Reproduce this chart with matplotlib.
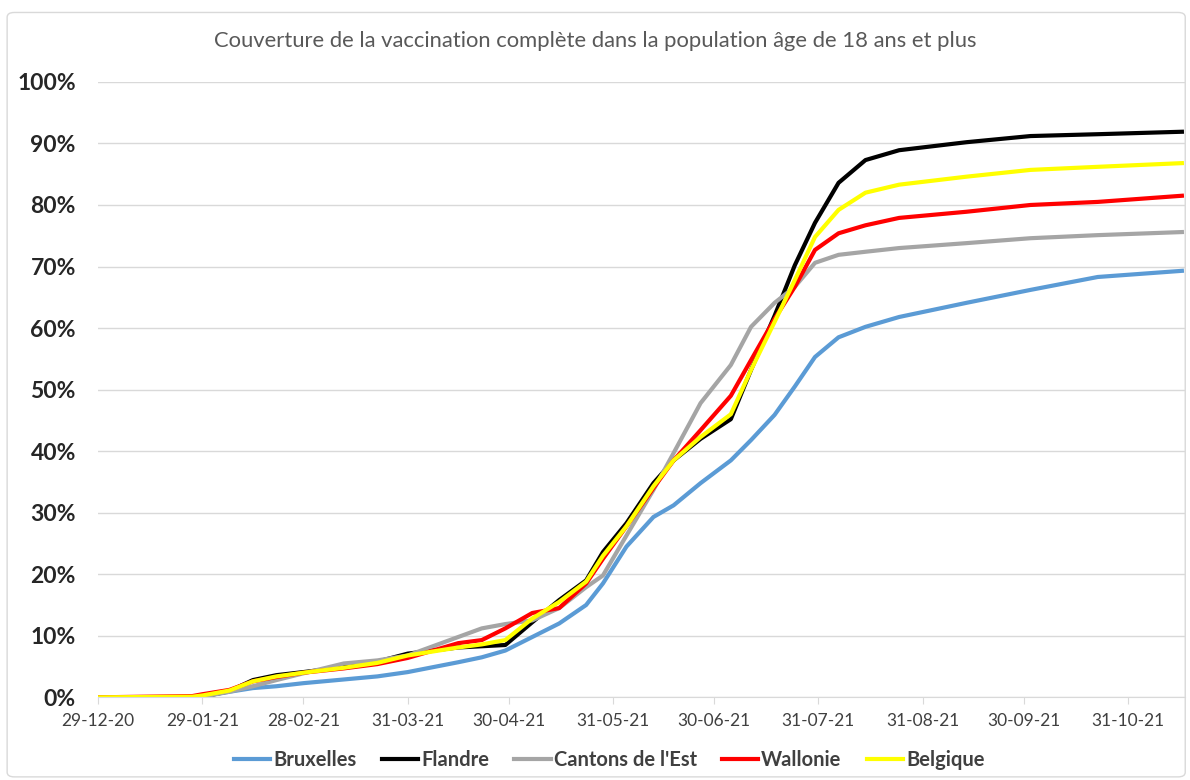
import pandas as pd
import matplotlib.pyplot as plt
import matplotlib.dates as mdates
from matplotlib.ticker import PercentFormatter
from matplotlib.patches import FancyBboxPatch

plt.rcParams['font.family'] = ['Lato', 'DejaVu Sans']

dates = ['2020-12-29', '2021-01-26', '2021-01-29', '2021-02-06', '2021-02-13',
         '2021-02-20', '2021-02-28', '2021-03-12', '2021-03-22', '2021-03-31',
         '2021-04-15', '2021-04-22', '2021-04-29', '2021-05-07', '2021-05-15',
         '2021-05-23', '2021-05-28', '2021-06-04', '2021-06-12', '2021-06-18',
         '2021-06-26', '2021-07-05', '2021-07-11', '2021-07-18', '2021-07-24',
         '2021-07-30', '2021-08-06', '2021-08-14', '2021-08-24', '2021-09-13',
         '2021-10-02', '2021-10-22', '2021-11-16']

bruxelles = [0, 0, 0.2, 0.9, 1.5, 1.8, 2.3, 2.9, 3.4, 4.1, 5.7, 6.5, 7.6, 9.8, 12.0,
             15.0, 18.5, 24.5, 29.3, 31.2, 34.8, 38.5, 41.8, 45.9, 50.5, 55.3, 58.5,
             60.2, 61.8, 64.1, 66.2, 68.3, 69.3]
flandre = [0, 0, 0.1, 1.0, 2.8, 3.6, 4.1, 4.9, 5.8, 7.1, 8.1, 8.3, 8.5, 12.2, 15.8,
           19.0, 23.6, 28.3, 34.8, 38.5, 42.0, 45.2, 53.2, 62.0, 70.2, 77.1, 83.6,
           87.3, 88.9, 90.2, 91.2, 91.5, 91.9]
cantons = [0, 0, 0.1, 0.9, 1.8, 2.8, 3.9, 5.5, 6.0, 6.8, 9.8, 11.2, 11.9, 12.5, 14.5,
           17.9, 19.8, 26.3, 33.7, 39.7, 47.8, 54.0, 60.2, 64.1, 66.7, 70.6, 71.9,
           72.4, 73.0, 73.8, 74.6, 75.1, 75.6]
wallonie = [0, 0.2, 0.5, 1.2, 2.6, 3.3, 4.0, 4.7, 5.4, 6.4, 8.8, 9.3, 11.2, 13.7, 14.5,
            18.5, 22.5, 27.8, 34.0, 38.5, 43.4, 49.0, 54.8, 61.5, 66.7, 72.7, 75.4,
            76.7, 77.9, 78.9, 80.0, 80.5, 81.5]
belgique = [0, 0.1, 0.3, 1.1, 2.6, 3.4, 4.0, 4.8, 5.6, 6.8, 8.1, 8.6, 9.3, 12.8, 15.5,
            18.8, 23.0, 27.8, 34.3, 38.5, 42.3, 46.0, 53.2, 61.0, 67.8, 74.8, 79.2,
            82.0, 83.3, 84.6, 85.7, 86.2, 86.8]

tick_dates = ['2020-12-29', '2021-01-29', '2021-02-28', '2021-03-31', '2021-04-30',
              '2021-05-31', '2021-06-30', '2021-07-31', '2021-08-31', '2021-09-30',
              '2021-10-31']

x = pd.to_datetime(dates)
series = [('Bruxelles', bruxelles, '#5B9BD5'),
          ('Flandre', flandre, '#000000'),
          ("Cantons de l'Est", cantons, '#A5A5A5'),
          ('Wallonie', wallonie, '#FF0000'),
          ('Belgique', belgique, '#FFFF00')]

fig = plt.figure(figsize=(11.9, 7.8), dpi=100)
ax = fig.add_axes([0.0824, 0.106, 0.9136, 0.789])

for name, vals, col in series:
    ax.plot(x, vals, color=col, linewidth=3, label=name, solid_joinstyle='round')

ax.set_xlim(pd.Timestamp('2020-12-29'), pd.Timestamp('2021-11-17'))
ax.set_ylim(0, 100)
ax.yaxis.set_major_formatter(PercentFormatter(decimals=0))
ax.set_yticks(range(0, 101, 10))
ax.set_xticks(pd.to_datetime(tick_dates))
ax.xaxis.set_major_formatter(mdates.DateFormatter('%d-%m-%y'))

ax.grid(axis='y', color='#D9D9D9', linewidth=1)
ax.set_axisbelow(True)
for s in ['top', 'right', 'left']:
    ax.spines[s].set_visible(False)
ax.spines['bottom'].set_color('#D9D9D9')
ax.tick_params(axis='y', length=0, pad=16, labelsize=16.5, labelcolor='#262626')
ax.tick_params(axis='x', length=5, color='#D9D9D9', pad=6, labelsize=12.5,
               labelcolor='#404040')
for lab in ax.get_yticklabels():
    lab.set_fontweight('bold')

fig.suptitle('Couverture de la vaccination complète dans la population âge de 18 ans et plus',
             y=0.96, fontsize=15.8, color='#595959')

leg = fig.legend(loc='center', bbox_to_anchor=(0.512, 0.026), ncol=5, frameon=False,
                 handlelength=1.8, handletextpad=0.15, columnspacing=1.25,
                 prop={'size': 14.5, 'weight': 'bold'})
for t in leg.get_texts():
    t.set_color('#404040')

fig.patches.append(FancyBboxPatch((0.006, 0.004), 0.99, 0.98, transform=fig.transFigure,
                                  boxstyle='round,pad=0,rounding_size=0.006',
                                  fill=False, edgecolor='#D9D9D9', linewidth=1))

fig.savefig('out.png', dpi=100)
